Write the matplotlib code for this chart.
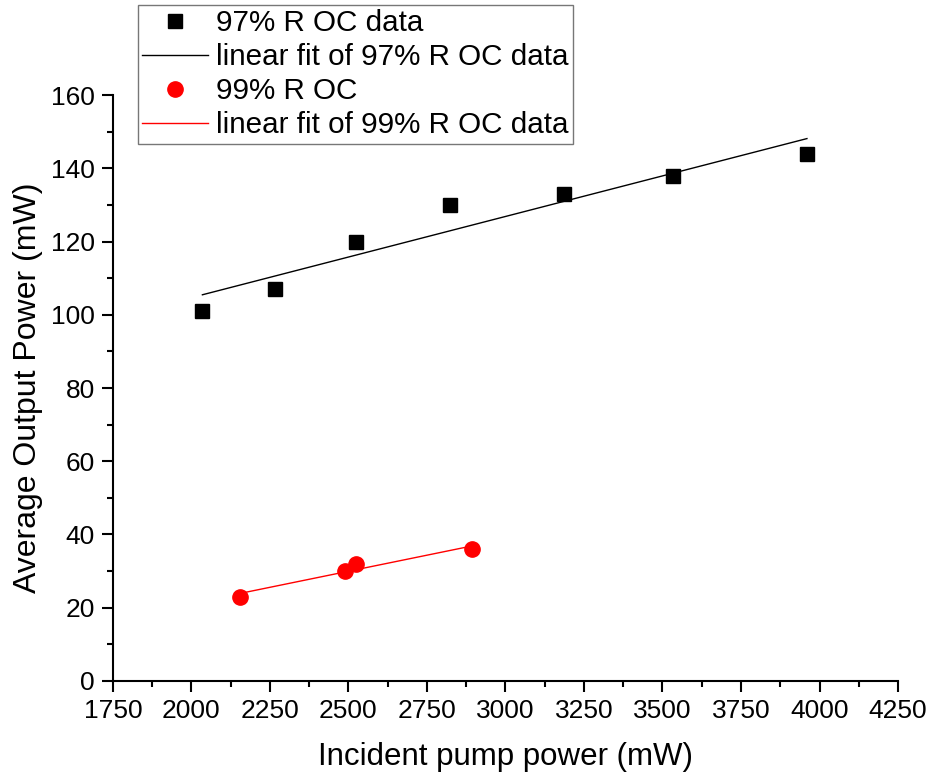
import numpy as np
import matplotlib
matplotlib.use("Agg")
import matplotlib.pyplot as plt
from matplotlib.ticker import MultipleLocator

plt.rcParams['font.family'] = ['Liberation Sans', 'DejaVu Sans']

# data
pump97 = np.array([2035, 2265, 2525, 2825, 3185, 3535, 3960])
power97 = np.array([101, 107, 120, 130, 133, 138, 144])
pump99 = np.array([2155, 2490, 2525, 2895])
power99 = np.array([23, 30, 32, 36])

fit97 = np.polyfit(pump97, power97, 1)
fit99 = np.polyfit(pump99, power99, 1)
xf97 = np.array([pump97.min(), pump97.max()])
xf99 = np.array([pump99.min(), pump99.max()])

fig = plt.figure(figsize=(9.33, 7.75), dpi=100)
ax = fig.add_axes([0.121, 0.1213, 0.8415, 0.7561])

h1, = ax.plot(pump97, power97, 's', color='black', markersize=10, linestyle='none',
              label='97% R OC data')
h2, = ax.plot(xf97, np.polyval(fit97, xf97), color='black', lw=1,
              label='linear fit of 97% R OC data')
h3, = ax.plot(pump99, power99, 'o', color='red', markersize=11, linestyle='none',
              label='99% R OC')
h4, = ax.plot(xf99, np.polyval(fit99, xf99), color='red', lw=1,
              label='linear fit of 99% R OC data')

ax.set_xlim(1750, 4250)
ax.set_ylim(0, 160)
ax.xaxis.set_major_locator(MultipleLocator(250))
ax.xaxis.set_minor_locator(MultipleLocator(125))
ax.yaxis.set_major_locator(MultipleLocator(20))
ax.yaxis.set_minor_locator(MultipleLocator(10))
ax.spines['top'].set_visible(False)
ax.spines['right'].set_visible(False)
ax.spines['left'].set_linewidth(1.5)
ax.spines['bottom'].set_linewidth(1.5)
ax.tick_params(which='major', direction='out', length=8, width=1.5, labelsize=19, pad=5)
ax.tick_params(which='minor', direction='out', length=4, width=1.5)

ax.set_xlabel('Incident pump power (mW)', fontsize=22.5, labelpad=14)
ax.set_ylabel('Average Output Power (mW)', fontsize=23, labelpad=6)

leg = fig.legend(handles=[h1, h2, h3, h4], loc='upper left',
                 bbox_to_anchor=(138 / 933, 1 - 5 / 775), fontsize=21.3, frameon=True,
                 fancybox=False, edgecolor='#555555', handlelength=2.2,
                 labelspacing=0.2, borderpad=0.15, handletextpad=0.3,
                 borderaxespad=0)
leg.get_frame().set_linewidth(1)

fig.savefig('out.png', dpi=100)
